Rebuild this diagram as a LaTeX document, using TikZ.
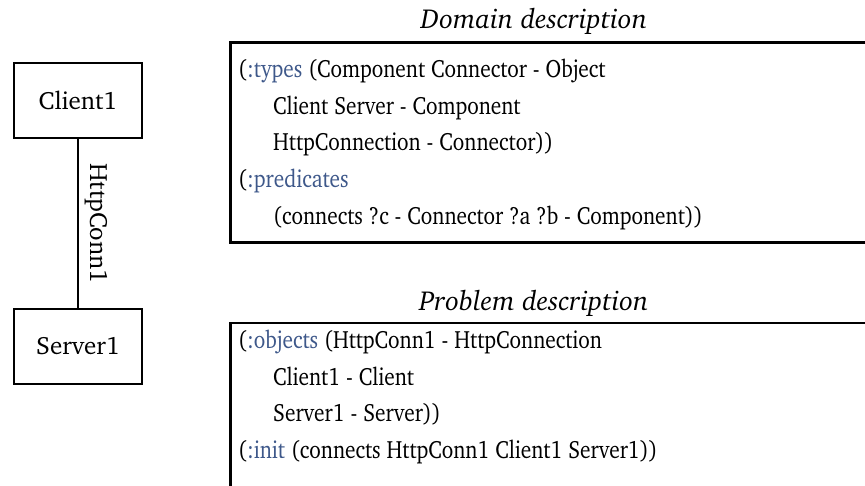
\documentclass[tikz,border=0pt]{standalone}
\usepackage[T1]{fontenc}
\usepackage{graphicx}
\renewcommand{\rmdefault}{bch}
\definecolor{kw}{RGB}{62,88,138}
\tikzset{
  comp/.style={draw, line width=1.5pt, minimum width=128pt, minimum height=75pt, inner sep=0pt, font=\fontsize{25}{30}\selectfont},
  code/.style={anchor=base west, inner sep=0pt, font=\fontsize{25}{30}\selectfont},
  title/.style={anchor=base, inner sep=0pt, font=\fontsize{27.5}{32}\selectfont\itshape},
  frame/.style={line width=2.4pt},
  conn/.style={line width=1.5pt}
}
\newcommand{\kwd}[1]{\textcolor{kw}{#1}}
\newcommand{\sq}[1]{\scalebox{0.853}[1]{#1}}
\begin{document}
\begin{tikzpicture}[x=1pt,y=-1pt]
\useasboundingbox (0,0) rectangle (865,485);
% components
\node[comp] (client) at (78,100.5) {Client1};
\node[comp] (server) at (78,346.5) {Server1};
\draw[conn] (client) -- (server) node[midway, xshift=18pt, rotate=-90, inner sep=0pt, font=\fontsize{25}{30}\selectfont] (lbl) {HttpConn1};
% domain description
\node[title] (dtitle) at (534,28) {Domain description};
\coordinate (dtr) at (866,42.5);
\coordinate (dtl) at (230.5,42.5);
\coordinate (dbl) at (230.5,242.5);
\coordinate (dbr) at (866,242.5);
\draw[frame] (dtr) -- (dtl) -- (dbl) -- (dbr);
\node[code] (d1) at (238,77) {\sq{(\kwd{:types} (Component Connector - Object}};
\node[code] (d2) at (273,114) {\sq{Client Server - Component}};
\node[code] (d3) at (273,150.5) {\sq{HttpConnection - Connector))}};
\node[code] (d4) at (238,187) {\sq{(\kwd{:predicates}}};
\node[code] (d5) at (273,224) {\sq{(connects ?c - Connector ?a ?b - Component))}};
% problem description
\node[title] (ptitle) at (534,310) {Problem description};
\coordinate (ptr) at (866,323);
\coordinate (ptl) at (230.5,323);
\coordinate (pbl) at (230.5,486);
\draw[frame] (ptr) -- (ptl) -- (pbl);
\node[code] (p1) at (238,348) {\sq{(\kwd{:objects} (HttpConn1 - HttpConnection}};
\node[code] (p2) at (273,385) {\sq{Client1 - Client}};
\node[code] (p3) at (273,421) {\sq{Server1 - Server))}};
\node[code] (p4) at (238,458) {\sq{(\kwd{:init} (connects HttpConn1 Client1 Server1))}};
\end{tikzpicture}
\end{document}
